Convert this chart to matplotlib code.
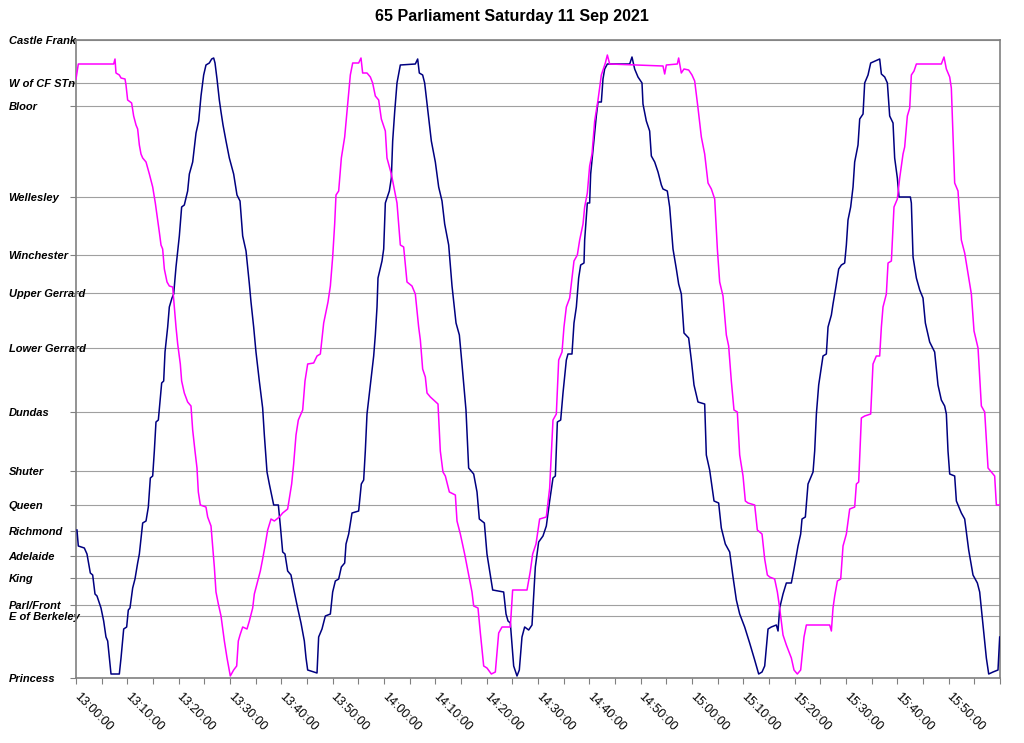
import matplotlib.pyplot as plt

# stops along route 65, top (north) to bottom (south); position = distance units up from Princess
stops = ["Castle Frank", "W of CF STn", "Bloor", "Wellesley", "Winchester", "Upper Gerrard",
         "Lower Gerrard", "Dundas", "Shuter", "Queen", "Richmond", "Adelaide", "King",
         "Parl/Front", "E of Berkeley", "Princess"]
stop_pos = [638, 595, 572, 481, 423, 385, 330, 266, 207, 173, 147, 122, 100, 73, 62, 0]

# bus 1 (navy): minutes after 13:00 and position
navy_min = [0.19, 0.45, 1.62, 2.14, 2.79, 3.25, 3.70, 4.09, 4.87, 5.39, 5.84, 6.17, 6.82, 8.44, 8.77,
            9.29, 9.87, 10.19, 10.52, 11.04, 11.49, 12.01, 12.34, 12.99, 13.64, 14.09, 14.48, 14.94,
            15.26, 15.58, 16.04, 16.69, 17.08, 17.34, 17.86, 18.18, 18.70, 19.03, 19.48, 20.13, 20.58,
            21.10, 21.75, 22.08, 22.73, 23.38, 23.90, 24.35, 24.87, 25.32, 25.97, 26.43, 26.82, 27.08,
            27.47, 27.92, 28.25, 28.64, 29.22, 29.87, 30.71, 31.36, 31.95, 32.47, 33.12, 33.77, 34.09,
            34.61, 35.06, 35.71, 36.36, 36.69, 37.21, 37.66, 37.99, 38.51, 39.42, 39.81, 40.26, 40.71,
            41.23, 41.88, 42.53, 43.18, 43.83, 44.48, 44.81, 45.13, 46.95, 47.27, 47.92, 48.57, 49.55,
            50.00, 50.52, 51.17, 51.69, 52.34, 52.60, 53.12, 53.77, 55.06, 55.58, 56.04, 56.36, 56.69,
            57.34, 57.99, 58.31, 58.64, 58.83, 59.61, 59.94, 60.26, 61.04, 61.43, 61.69, 62.08, 62.53,
            63.18, 66.10, 66.56, 66.88, 67.53, 67.92, 68.57, 69.22, 70.00, 70.65, 71.30, 71.82, 72.60,
            73.25, 74.03, 74.68, 75.19, 75.97, 76.49, 77.47, 78.12, 78.57, 79.55, 80.06, 80.71, 81.17,
            83.31, 83.77, 84.16, 84.61, 85.26, 85.91, 86.36, 86.88, 87.40, 88.18, 88.83, 89.16, 89.48,
            90.13, 90.97, 91.62, 92.27, 92.92, 93.38, 93.77, 94.42, 94.87, 95.52, 95.84, 96.62, 97.01,
            97.47, 97.92, 98.31, 98.96, 99.09, 99.61, 100.06, 100.26, 101.04, 101.36, 101.69, 102.34,
            102.66, 102.99, 103.51, 107.86, 108.31, 108.83, 109.48, 110.26, 110.45, 111.10, 111.75,
            112.08, 112.73, 113.38, 114.03, 114.35, 115.19, 115.65, 116.30, 116.95, 117.40, 117.92,
            118.44, 119.35, 119.87, 120.39, 121.17, 122.47, 122.79, 123.44, 124.29, 125.19, 125.71,
            126.49, 127.34, 127.99, 128.64, 129.29, 130.26, 131.23, 132.21, 132.99, 133.64, 134.16,
            134.81, 135.45, 136.43, 136.76, 137.08, 137.73, 138.38, 139.35, 139.87, 140.65, 141.17,
            141.43, 142.08, 142.60, 143.58, 143.90, 144.23, 144.68, 145.52, 146.17, 146.50, 147.15,
            147.47, 147.93, 148.58, 149.10, 149.74, 150.07, 150.39, 150.91, 151.37, 151.69, 152.34,
            152.67, 153.32, 153.64, 154.29, 154.81, 156.56, 156.89, 157.54, 158.06, 158.51, 159.16,
            159.48, 160.00, 160.33, 162.54, 162.73, 163.06, 163.71, 164.36, 165.00, 165.46, 166.30,
            167.27, 167.92, 168.57, 169.22, 169.55, 169.87, 170.20, 171.17, 171.50, 172.47, 173.12,
            173.90, 174.74, 175.59, 176.04, 176.69, 177.34, 177.80, 178.64, 179.61, 179.94]
navy_pos = [148, 132, 130, 124, 105, 103, 84, 82, 70, 57, 41, 37, 4, 4, 20,
            49, 51, 68, 70, 90, 99, 115, 124, 155, 157, 171, 200, 202,
            227, 256, 258, 295, 297, 326, 351, 371, 380, 384, 411, 442, 471,
            473, 487, 504, 516, 545, 557, 582, 603, 613, 615, 619, 620, 615,
            599, 578, 566, 553, 537, 520, 504, 483, 477, 442, 427, 394, 376,
            351, 326, 297, 270, 243, 206, 194, 186, 173, 173, 152, 126, 124,
            107, 103, 86, 70, 55, 37, 20, 8, 5, 41, 49, 62, 64,
            86, 97, 99, 111, 115, 134, 144, 165, 167, 194, 198, 227, 264,
            293, 322, 343, 371, 400, 417, 429, 475, 487, 500, 537, 566, 595,
            613, 614, 619, 605, 603, 595, 566, 537, 516, 491, 477, 454, 433,
            392, 355, 343, 314, 268, 210, 204, 186, 159, 155, 124, 103, 88,
            86, 64, 57, 55, 12, 2, 8, 41, 51, 48, 53, 82, 111,
            136, 142, 152, 177, 200, 202, 256, 258, 285, 318, 324, 324, 355,
            371, 400, 413, 415, 438, 475, 475, 504, 545, 562, 576, 576,
            599, 609, 614, 614, 621, 609, 601, 595, 574, 557, 547,
            522, 516, 506, 493, 489, 487, 471, 429, 409, 394, 384,
            345, 340, 318, 293, 276, 274, 223, 208, 177, 175, 150,
            134, 126, 101, 78, 64, 51, 35, 18, 4, 6, 12,
            49, 51, 53, 47, 70, 84, 95, 95, 109, 132, 144,
            159, 161, 194, 206, 227, 264, 293, 322, 324, 351, 363,
            374, 388, 409, 413, 415, 433, 458, 471, 491, 516, 533,
            559, 564, 595, 603, 615, 619, 604, 601, 595, 562, 555,
            520, 500, 481, 481, 475, 421, 400, 388, 380, 355, 336,
            326, 293, 278, 272, 264, 227, 204, 202, 177, 165, 159,
            128, 103, 95, 86, 53, 20, 4, 6, 8, 41]

# bus 2 (magenta)
mag_min = [0.00, 0.45, 7.34, 7.60, 7.79, 8.44, 8.77, 9.55, 9.74, 10.06, 10.84, 11.23, 11.69, 12.01,
           12.34, 12.66, 12.99, 13.64, 14.29, 14.94, 15.45, 15.91, 16.23, 16.56, 16.88, 17.21, 17.73,
           18.18, 18.83, 19.16, 19.48, 19.81, 20.32, 20.58, 21.10, 21.75, 22.40, 22.73, 23.18, 23.57,
           23.83, 24.22, 25.32, 25.65, 26.30, 26.62, 26.95, 27.27, 27.73, 28.25, 28.90, 29.42, 30.06,
           30.71, 31.30, 31.62, 31.95, 32.47, 33.31, 33.77, 34.42, 34.74, 35.39, 35.91, 36.36, 36.82,
           37.34, 37.99, 38.64, 39.61, 40.26, 41.23, 42.01, 42.40, 42.86, 43.31, 44.16, 44.61, 45.13,
           46.30, 46.95, 47.60, 48.25, 49.09, 49.55, 50.00, 50.39, 50.65, 51.17, 51.69, 52.34, 52.79,
           52.99, 53.44, 53.90, 55.06, 55.52, 55.84, 56.69, 57.34, 57.79, 58.31, 58.96, 59.48, 60.26,
           60.58, 61.43, 62.08, 62.53, 63.18, 63.83, 64.48, 65.45, 66.10, 66.75, 67.08, 67.53, 68.05,
           68.38, 69.03, 70.52, 70.97, 71.49, 71.95, 72.73, 73.90, 74.22, 74.87, 75.71, 76.49, 77.14,
           77.47, 78.31, 78.77, 79.42, 80.06, 80.91, 81.69, 82.34, 82.99, 84.61, 85.06, 87.86, 88.51,
           88.96, 89.61, 90.32, 91.62, 92.27, 92.92, 93.57, 94.03, 94.68, 95.06, 95.52, 96.17, 96.49,
           97.01, 97.66, 98.12, 98.77, 99.09, 99.61, 100.06, 100.52, 101.04, 101.69, 102.34, 103.12,
           103.51, 103.96, 114.35, 114.68, 115.00, 117.14, 117.40, 117.92, 118.44, 119.35, 120.00,
           120.52, 121.17, 121.82, 122.47, 123.12, 123.77, 124.42, 124.94, 125.39, 126.04, 126.69,
           127.14, 127.66, 128.18, 128.83, 129.29, 129.94, 130.39, 130.91, 132.21, 132.73, 133.64,
           134.16, 134.68, 135.13, 136.10, 136.63, 137.08, 137.73, 138.38, 139.35, 139.87, 140.52,
           141.17, 141.82, 142.28, 146.82, 147.15, 147.47, 147.80, 148.32, 148.97, 149.42, 150.07,
           150.72, 151.69, 152.02, 152.47, 152.99, 153.64, 154.81, 155.26, 155.91, 156.56, 156.89,
           157.21, 157.86, 158.19, 158.84, 159.35, 160.00, 160.46, 161.11, 161.43, 161.95, 162.41,
           162.73, 163.25, 163.71, 168.57, 169.09, 169.55, 170.20, 170.52, 171.17, 171.82, 172.47,
           173.12, 173.90, 174.42, 174.94, 175.72, 176.37, 177.02, 177.67, 178.31, 178.96, 179.29,
           179.94]
mag_pos = [599, 614, 614, 619, 605, 603, 600, 599, 593, 578, 575, 562, 553, 549,
           533, 524, 520, 516, 504, 491, 475, 458, 446, 433, 429, 409, 396,
           392, 391, 371, 351, 334, 314, 297, 285, 276, 272, 248, 227, 210,
           186, 173, 171, 161, 152, 132, 111, 86, 74, 62, 37, 20, 2,
           8, 12, 37, 43, 51, 49, 57, 70, 84, 97, 107, 119, 132,
           148, 159, 157, 161, 165, 169, 194, 214, 243, 258, 268, 297, 314,
           315, 322, 324, 355, 376, 392, 421, 454, 483, 487, 520, 541, 566,
           578, 603, 615, 615, 620, 605, 605, 601, 595, 582, 578, 559, 547,
           520, 504, 487, 475, 433, 431, 396, 392, 384, 351, 338, 309, 301,
           285, 281, 274, 227, 206, 202, 186, 183, 157, 144, 124, 103, 86,
           72, 70, 45, 12, 10, 4, 6, 45, 51, 51, 88, 88, 107,
           124, 134, 159, 161, 190, 258, 264, 318, 326, 351, 371, 380, 394,
           417, 423, 438, 454, 471, 485, 512, 524, 557, 578, 603, 615,
           623, 614, 612, 604, 613, 614, 620, 605, 609, 608, 603,
           597, 570, 541, 524, 495, 489, 479, 429, 396, 382, 343,
           332, 297, 268, 266, 223, 202, 177, 175, 173, 148, 144,
           119, 103, 101, 99, 86, 70, 43, 33, 20, 8, 4,
           8, 41, 53, 53, 47, 70, 82, 97, 99, 132, 144,
           169, 171, 194, 196, 260, 262, 264, 314, 322, 322, 351,
           371, 384, 415, 417, 471, 479, 500, 524, 531, 562, 570,
           603, 607, 614, 614, 621, 609, 601, 590, 495, 487, 438,
           425, 400, 384, 347, 330, 272, 266, 210, 206, 202, 173,
           173]

plt.rcParams['font.family'] = ['Liberation Sans', 'DejaVu Sans']

fig = plt.figure(figsize=(10.24, 7.43), dpi=100)
ax = fig.add_axes([76 / 1024, 1 - 678 / 743, 924 / 1024, 638 / 743])

ax.plot(navy_min, navy_pos, color='#000080', lw=1.1, zorder=3)
ax.plot(mag_min, mag_pos, color='#FF00FF', lw=1.1, zorder=3)

ax.set_xlim(0, 180)
ax.set_ylim(0, 638)

# y axis: stop names, left aligned at the figure edge
ax.set_yticks(stop_pos)
ax.set_yticklabels(stops, fontsize=8, fontweight='bold', fontstyle='italic', ha='left')
ax.tick_params(axis='y', length=4, color='#808080', width=0.8, pad=44.5)
ax.grid(axis='y', color='#a0a0a0', lw=0.8)

# x axis: tick every 5 min, label every 10 min
xt = list(range(0, 181, 5))
xl = [f"{13 + m // 60}:{m % 60:02d}:00" if m % 10 == 0 and m < 180 else "" for m in xt]
ax.set_xticks(xt)
ax.set_xticklabels(xl, fontsize=9, rotation=-45, ha='left', va='center', rotation_mode='anchor')
ax.tick_params(axis='x', length=4, color='#808080', width=0.8, pad=8)

for sp in ax.spines.values():
    sp.set_color('#808080')
    sp.set_linewidth(1.2)

fig.text(0.5, 1 - 17 / 743, "65 Parliament Saturday 11 Sep 2021", ha='center', va='center',
         fontsize=11.5, fontweight='bold')

fig.savefig("out.png", dpi=100)
